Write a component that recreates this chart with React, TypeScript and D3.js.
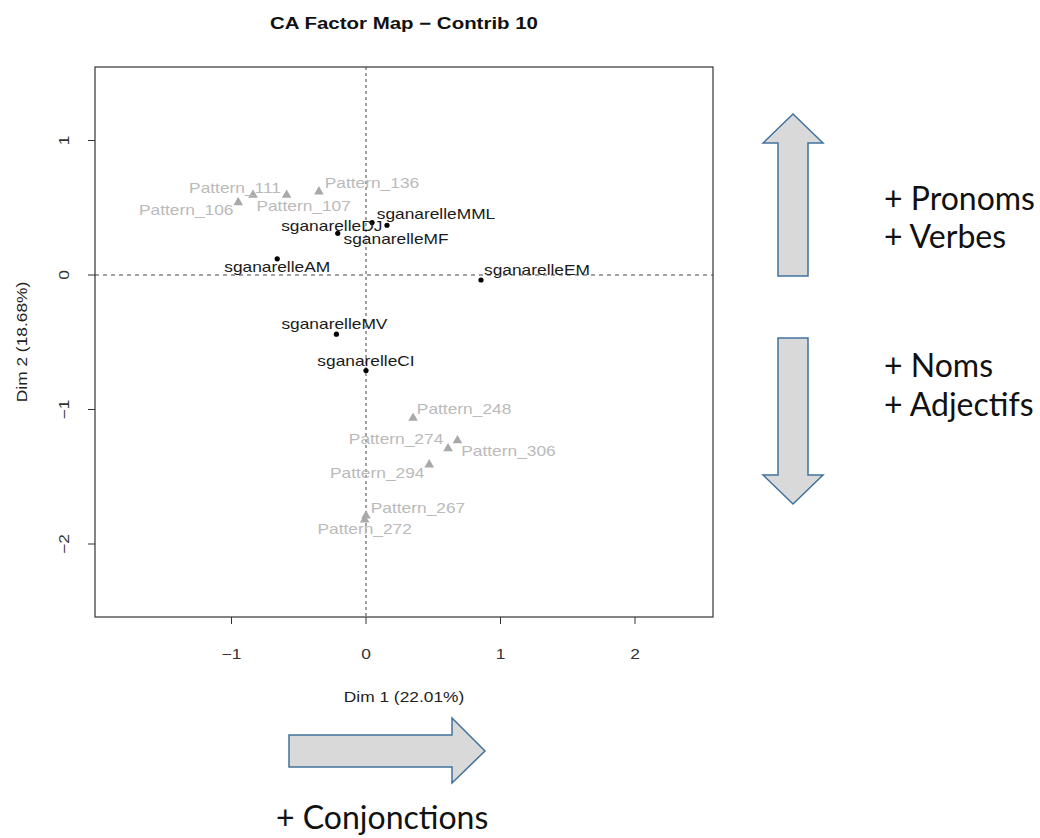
import * as d3 from 'd3';

// rows (plays) — active points
const rowNames = ['sganarelleAM', 'sganarelleEM', 'sganarelleDJ', 'sganarelleMF', 'sganarelleMML', 'sganarelleMV', 'sganarelleCI'];
const rowDim1 = [-0.66, 0.855, -0.21, 0.045, 0.156, -0.22, 0.0];
const rowDim2 = [0.12, -0.037, 0.31, 0.39, 0.37, -0.44, -0.71];

// columns (patterns) — top 10 contributions
const colNames = ['Pattern_106', 'Pattern_111', 'Pattern_107', 'Pattern_136', 'Pattern_248', 'Pattern_274', 'Pattern_306', 'Pattern_294', 'Pattern_267', 'Pattern_272'];
const colDim1 = [-0.95, -0.84, -0.59, -0.35, 0.35, 0.61, 0.68, 0.47, 0.0, -0.01];
const colDim2 = [0.54, 0.595, 0.595, 0.62, -1.063, -1.29, -1.23, -1.41, -1.79, -1.82];

const xTicks = [-1, 0, 1, 2];
const yTicks = [1, 0, -1, -2];

// label nudges (px) as laid out by autoLab
const labelNudge: Record<string, [number, number]> = {
  sganarelleAM: [0, 8],
  sganarelleEM: [56, -10],
  sganarelleDJ: [-6, -7],
  sganarelleMF: [24, 17],
  sganarelleMML: [49, -11],
  sganarelleMV: [-2, -10],
  sganarelleCI: [0, -9],
  Pattern_106: [-52, 8],
  Pattern_111: [-18, -7],
  Pattern_107: [17, 11],
  Pattern_136: [53, -9],
  Pattern_248: [51, -9],
  Pattern_274: [-52, -9],
  Pattern_306: [51, 11],
  Pattern_294: [-52, 8],
  Pattern_267: [52, -8],
  Pattern_272: [0, 9],
};

const W = 1040;
const H = 838;
const box = { left: 95, right: 713, top: 67, bottom: 617 };
const SX = 1.24; // the picture's text is stretched along its reading direction
const FONT = '"Liberation Sans", Arial, Helvetica, sans-serif';
const NOTE_FONT = 'Lato, "Open Sans", sans-serif';

const x = d3.scaleLinear().domain([0, 1]).range([366, 500.5]);
const y = d3.scaleLinear().domain([0, 1]).range([275, 140.5]);

const tri = d3.symbol().type(d3.symbolTriangle).size(40)() as string;

const T = ({ px, py, children, size = 14, fill = '#222', weight = 'normal', rotate = 0, anchor = 'middle' }: any) => (
  <text
    transform={`translate(${px},${py}) rotate(${rotate}) scale(${SX},1)`}
    textAnchor={anchor}
    dy="0.35em"
    fontFamily={FONT}
    fontSize={size}
    fontWeight={weight}
    fill={fill}
  >
    {children}
  </text>
);

const arrowPath = (pts: [number, number][]) => d3.line()(pts) + 'Z';

const App = () => {
  const upArrow = arrowPath([[793, 114], [823, 143], [808, 143], [808, 276], [778, 276], [778, 143], [763, 143]]);
  const downArrow = arrowPath([[778, 338], [808, 338], [808, 475], [823, 475], [793, 504], [763, 475], [778, 475]]);
  const rightArrow = arrowPath([[289, 735], [452, 735], [452, 718], [485, 751], [452, 783], [452, 767], [289, 767]]);

  return (
    <svg width={W} height={H} style={{ position: 'absolute', left: 0, top: 0, background: '#fff' }}>
      <T px={404} py={23} size={16.5} weight="bold" fill="#111">CA Factor Map − Contrib 10</T>

      {/* reference lines */}
      <line x1={box.left} x2={box.right} y1={y(0)} y2={y(0)} stroke="#444" strokeDasharray="4,4" />
      <line x1={x(0)} x2={x(0)} y1={box.top} y2={box.bottom} stroke="#444" strokeDasharray="3,3" />

      {/* box and axes */}
      <rect x={box.left} y={box.top} width={box.right - box.left} height={box.bottom - box.top} fill="none" stroke="#333" strokeWidth={1.2} />
      {xTicks.map((t) => (
        <g key={'x' + t}>
          <line x1={x(t)} x2={x(t)} y1={box.bottom} y2={box.bottom + 7} stroke="#333" />
          <T px={x(t)} py={654} fill="#333">{t < 0 ? '−' + Math.abs(t) : t}</T>
        </g>
      ))}
      {yTicks.map((t) => (
        <g key={'y' + t}>
          <line x1={box.left - 7} x2={box.left} y1={y(t)} y2={y(t)} stroke="#333" />
          <T px={64} py={y(t)} rotate={-90} fill="#333">{t < 0 ? '−' + Math.abs(t) : t}</T>
        </g>
      ))}
      <T px={404} py={697} fill="#222">Dim 1 (22.01%)</T>
      <T px={22} py={342} rotate={-90} fill="#222">Dim 2 (18.68%)</T>

      {/* column points */}
      {colNames.map((n, i) => (
        <path key={n} d={tri} transform={`translate(${x(colDim1[i])},${y(colDim2[i])})`} fill="#a9a9a9" />
      ))}
      {colNames.map((n, i) => (
        <T key={n + 'l'} px={x(colDim1[i]) + labelNudge[n][0]} py={y(colDim2[i]) + labelNudge[n][1]} fill="#bababa">{n}</T>
      ))}

      {/* row points */}
      {rowNames.map((n, i) => (
        <circle key={n} cx={x(rowDim1[i])} cy={y(rowDim2[i])} r={2.6} fill="#000" />
      ))}
      {rowNames.map((n, i) => (
        <T key={n + 'l'} px={x(rowDim1[i]) + labelNudge[n][0]} py={y(rowDim2[i]) + labelNudge[n][1]} fill="#1a1a1a">{n}</T>
      ))}

      {/* annotations */}
      <g fill="#d9d9d9" stroke="#41719c" strokeWidth={1.5} strokeLinejoin="miter">
        <path d={upArrow} />
        <path d={downArrow} />
        <path d={rightArrow} />
      </g>
      <g fontFamily={NOTE_FONT} fontSize={32} fill="#111">
        <text x={884} y={210}>+ Pronoms</text>
        <text x={884} y={248}>+ Verbes</text>
        <text x={884} y={377}>+ Noms</text>
        <text x={884} y={416}>+ Adjectifs</text>
        <text x={276} y={829}>+ Conjonctions</text>
      </g>
    </svg>
  );
};

export default App;
